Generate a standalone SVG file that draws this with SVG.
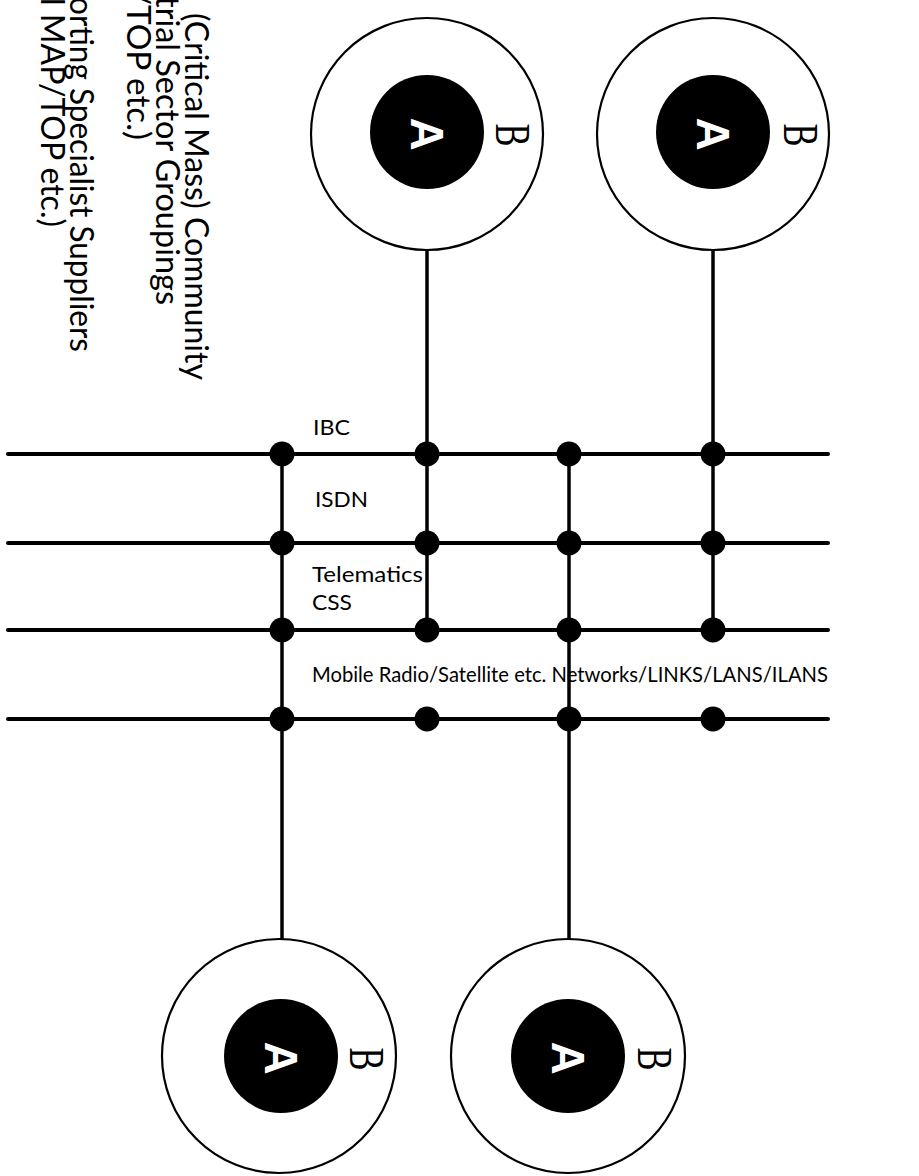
<svg xmlns="http://www.w3.org/2000/svg" width="919" height="1176" viewBox="0 0 919 1176">
<style>
.bus{stroke:#000;stroke-width:4;stroke-linecap:round;fill:none}
.drop{stroke:#000;stroke-width:3.5;fill:none}
.outer{fill:#fff;stroke:#000;stroke-width:2.2}
.inner{fill:#000}
.dot{fill:#000}
.lbl{font-family:Lato,"Open Sans","Liberation Sans",sans-serif;font-size:22px;fill:#000}
.side{font-family:Lato,"Open Sans","Liberation Sans",sans-serif;font-size:32px;fill:#000}
.a{font-family:"Liberation Sans",Arial,sans-serif;font-weight:bold;font-size:46px;fill:#fff;text-anchor:middle}
.b{font-family:"Liberation Serif","Times New Roman",serif;font-size:50px;fill:#000;text-anchor:middle}
</style>
<rect width="919" height="1176" fill="#fff"/>

<g id="side-text">
<text class="side" transform="translate(185,13) rotate(90)" textLength="367" lengthAdjust="spacingAndGlyphs">(Critical Mass) Community</text>
<text class="side" transform="translate(156,-4) rotate(90)" textLength="309" lengthAdjust="spacingAndGlyphs">trial Sector Groupings</text>
<text class="side" transform="translate(127,-10) rotate(90)" textLength="150" lengthAdjust="spacingAndGlyphs">/TOP etc.)</text>
<text class="side" transform="translate(70,-3) rotate(90)" textLength="355" lengthAdjust="spacingAndGlyphs">orting Specialist Suppliers</text>
<text class="side" transform="translate(41,-2) rotate(90)" textLength="229" lengthAdjust="spacingAndGlyphs">l MAP/TOP etc.)</text>
</g>

<g id="connectors">
<line class="bus" x1="8" y1="454" x2="828" y2="454"/>
<line class="bus" x1="8" y1="543" x2="828" y2="543"/>
<line class="bus" x1="8" y1="630" x2="828" y2="630"/>
<line class="bus" x1="8" y1="719" x2="828" y2="719"/>
<line class="drop" x1="282" y1="454" x2="282" y2="1000"/>
<line class="drop" x1="427" y1="185" x2="427" y2="630"/>
<line class="drop" x1="569" y1="454" x2="569" y2="1000"/>
<line class="drop" x1="713" y1="185" x2="713" y2="630"/>
</g>

<g id="junctions">
<circle class="dot" cx="282" cy="454" r="12.5"/>
<circle class="dot" cx="427" cy="454" r="12.5"/>
<circle class="dot" cx="569" cy="454" r="12.5"/>
<circle class="dot" cx="713" cy="454" r="12.5"/>
<circle class="dot" cx="282" cy="543" r="12.5"/>
<circle class="dot" cx="427" cy="543" r="12.5"/>
<circle class="dot" cx="569" cy="543" r="12.5"/>
<circle class="dot" cx="713" cy="543" r="12.5"/>
<circle class="dot" cx="282" cy="630" r="12.5"/>
<circle class="dot" cx="427" cy="630" r="12.5"/>
<circle class="dot" cx="569" cy="630" r="12.5"/>
<circle class="dot" cx="713" cy="630" r="12.5"/>
<circle class="dot" cx="282" cy="719" r="12.5"/>
<circle class="dot" cx="427" cy="719" r="12.5"/>
<circle class="dot" cx="569" cy="719" r="12.5"/>
<circle class="dot" cx="713" cy="719" r="12.5"/>
</g>

<g id="network-labels">
<text class="lbl" x="313" y="435" textLength="37" lengthAdjust="spacingAndGlyphs">IBC</text>
<text class="lbl" x="315" y="507" textLength="53" lengthAdjust="spacingAndGlyphs">ISDN</text>
<text class="lbl" x="312" y="582" textLength="111" lengthAdjust="spacingAndGlyphs">Telematics</text>
<text class="lbl" x="312" y="610" textLength="40" lengthAdjust="spacingAndGlyphs">CSS</text>
<text class="lbl" x="312" y="682" textLength="516" lengthAdjust="spacingAndGlyphs">Mobile Radio/Satellite etc. Networks/LINKS/LANS/ILANS</text>
</g>

<g id="node-top-left">
<circle class="outer" cx="427" cy="134" r="116"/>
<circle class="inner" cx="427" cy="132" r="57"/>
<text class="a" transform="translate(427,134) rotate(90)" x="0" y="16.5">A</text>
<text class="b" transform="translate(512,135) rotate(90)" x="0" y="16.5" textLength="23" lengthAdjust="spacingAndGlyphs">B</text>
</g>

<g id="node-top-right">
<circle class="outer" cx="713" cy="134" r="116"/>
<circle class="inner" cx="713" cy="132" r="57"/>
<text class="a" transform="translate(713,134) rotate(90)" x="0" y="16.5">A</text>
<text class="b" transform="translate(800,135) rotate(90)" x="0" y="16.5" textLength="23" lengthAdjust="spacingAndGlyphs">B</text>
</g>

<g id="node-bottom-left">
<circle class="outer" cx="279" cy="1056" r="117"/>
<circle class="inner" cx="281" cy="1056" r="57"/>
<text class="a" transform="translate(281,1058) rotate(90)" x="0" y="16.5">A</text>
<text class="b" transform="translate(366,1059) rotate(90)" x="0" y="16.5" textLength="23" lengthAdjust="spacingAndGlyphs">B</text>
</g>

<g id="node-bottom-right">
<circle class="outer" cx="568" cy="1056" r="117"/>
<circle class="inner" cx="568" cy="1056" r="57"/>
<text class="a" transform="translate(568,1058) rotate(90)" x="0" y="16.5">A</text>
<text class="b" transform="translate(654,1059) rotate(90)" x="0" y="16.5" textLength="23" lengthAdjust="spacingAndGlyphs">B</text>
</g>
</svg>
